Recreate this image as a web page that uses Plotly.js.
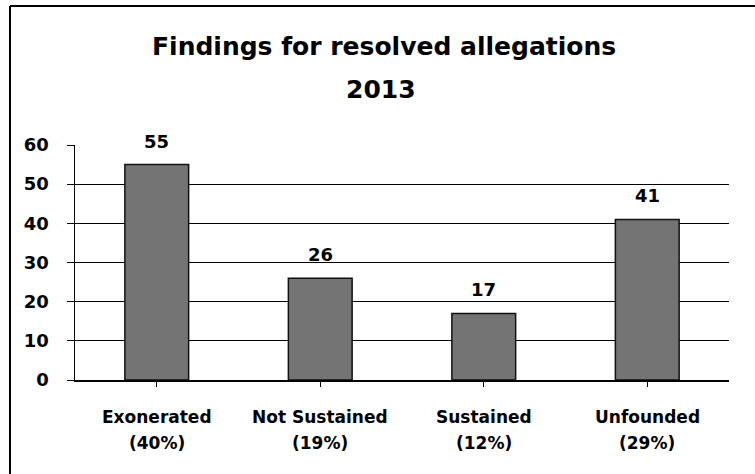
<!DOCTYPE html>
<html>
<head>
<meta charset="utf-8">
<script src="https://cdn.plot.ly/plotly-3.0.1.min.js"></script>
<style>html,body{margin:0;padding:0;background:#fff;}#chart{width:755px;height:474px;}</style>
</head>
<body>
<div id="chart"></div>
<script>
const titleLines = ["Findings for resolved allegations", "2013"];
const categories = ["Exonerated", "Not Sustained", "Sustained", "Unfounded"];
const percents = ["(40%)", "(19%)", "(12%)", "(29%)"];
const values = [55, 26, 17, 41];
const yTicks = [0, 10, 20, 30, 40, 50, 60];

const FONT = "'DejaVu Sans', sans-serif";
const bold = (size) => ({family: FONT, size: size, color: '#000', weight: 'bold'});

const annotations = [];
// title lines
annotations.push({xref: 'paper', yref: 'paper', x: (384 - 75) / 654, y: 1, yshift: 145 - 46,
  text: titleLines[0], showarrow: false, xanchor: 'center', yanchor: 'middle', font: bold(25)});
annotations.push({xref: 'paper', yref: 'paper', x: (381 - 75) / 654, y: 1, yshift: 145 - 89,
  text: titleLines[1], showarrow: false, xanchor: 'center', yanchor: 'middle', font: bold(25)});
// data labels
values.forEach((v, i) => {
  annotations.push({
    x: i, y: v, xref: 'x', yref: 'y', text: String(v), showarrow: false,
    yanchor: 'bottom', yshift: 11, font: bold(18)
  });
});
// category labels (two lines)
categories.forEach((c, i) => {
  annotations.push({
    x: i, y: 0, xref: 'x', yref: 'paper', text: c, showarrow: false,
    yanchor: 'middle', yshift: -37, font: bold(17)
  });
});
percents.forEach((p, i) => {
  annotations.push({
    x: i, y: 0, xref: 'x', yref: 'paper', text: p, showarrow: false,
    yanchor: 'middle', yshift: -63, font: bold(17)
  });
});

const trace = {
  type: 'bar',
  x: categories.map((c, i) => i),
  y: values,
  width: 0.39,
  marker: {color: '#747474', line: {color: '#111', width: 1.5}},
  hoverinfo: 'none'
};

const layout = {
  width: 755, height: 474,
  margin: {l: 75, r: 26, t: 145, b: 94},
  paper_bgcolor: '#fff', plot_bgcolor: '#fff',
  showlegend: false,
  xaxis: {
    range: [-0.5, 3.5],
    tickvals: [0, 1, 2, 3], showticklabels: false,
    tickson: 'boundaries', ticks: 'outside', ticklen: 5, tickcolor: '#000',
    showline: true, linecolor: '#000', linewidth: 1.5,
    showgrid: false, zeroline: false
  },
  yaxis: {
    range: [0, 60], tickvals: yTicks,
    ticks: 'outside', ticklen: 7, tickcolor: '#000',
    showline: true, linecolor: '#000', linewidth: 1.5,
    showgrid: true, gridcolor: '#000', gridwidth: 1,
    zeroline: false,
    tickfont: bold(18),
    ticklabelstandoff: 14
  },
  annotations: annotations,
  shapes: [
    {type: 'line', xref: 'paper', yref: 'paper', x0: -0.0994, x1: -0.0994, y0: 1.5915, y1: -0.45, line: {color: '#000', width: 2}},
    {type: 'line', xref: 'paper', yref: 'paper', x0: -0.0994, x1: 1.05, y0: 1.5915, y1: 1.5915, line: {color: '#000', width: 2}}
  ]
};

Plotly.newPlot('chart', [trace], layout, {staticPlot: true, displayModeBar: false});
</script>
</body>
</html>
